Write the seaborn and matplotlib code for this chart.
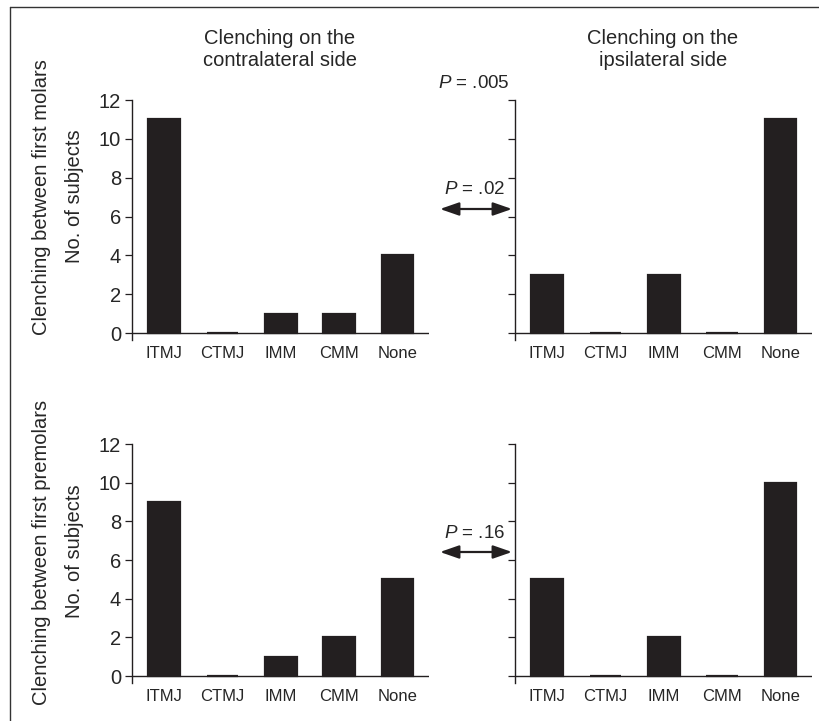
import matplotlib
matplotlib.use("Agg")
import matplotlib.pyplot as plt
import seaborn as sns
from matplotlib.lines import Line2D

# Data
categories = ["ITMJ", "CTMJ", "IMM", "CMM", "None"]
molars_contra = [11, 0, 1, 1, 4]
molars_ipsi = [3, 0, 3, 0, 11]
premolars_contra = [9, 0, 1, 2, 5]
premolars_ipsi = [5, 0, 2, 0, 10]
col_titles = ["Clenching on the\ncontralateral side", "Clenching on the\nipsilateral side"]
row_labels = ["Clenching between first molars", "Clenching between first premolars"]
yticks = [0, 2, 4, 6, 8, 10, 12]

sns.set_style("ticks")
plt.rcParams["font.family"] = ["Liberation Sans", "DejaVu Sans"]
plt.rcParams["mathtext.fontset"] = "custom"
plt.rcParams["mathtext.it"] = "Liberation Sans:italic"
plt.rcParams["mathtext.rm"] = "Liberation Sans"

bar_color = "#231f20"
W, H = 819, 721
fig = plt.figure(figsize=(W / 100, H / 100), dpi=100)


def px(x0, y0, x1, y1):
    # pixel box -> figure fraction [left, bottom, width, height]
    return [x0 / W, 1 - y1 / H, (x1 - x0) / W, (y1 - y0) / H]


boxes = [px(132, 100, 429, 340), px(515, 100, 812, 340),
         px(132, 444, 429, 683), px(515, 444, 812, 683)]
series = [molars_contra, molars_ipsi, premolars_contra, premolars_ipsi]

for i, (box, vals) in enumerate(zip(boxes, series)):
    ax = fig.add_axes(box)
    sns.barplot(x=categories, y=vals, ax=ax, color=bar_color, width=0.54,
                edgecolor=bar_color, linewidth=1.6, saturation=1)
    ax.set_ylim(-0.36, 12)
    ax.set_xlim(-0.55, 4.54)
    ax.set_yticks(yticks)
    ax.axhline(0, color="#231f20", lw=1.0, zorder=0)
    for s in ["top", "right", "bottom"]:
        ax.spines[s].set_visible(False)
    ax.spines["left"].set_linewidth(1.0)
    ax.spines["left"].set_color("#231f20")
    ax.tick_params(axis="y", length=5, width=0.9, color="#231f20",
                   labelsize=14.5, pad=3)
    ax.tick_params(axis="x", length=0, labelsize=12, pad=4)
    ax.set_xlabel("")
    ax.set_ylabel("")
    if i % 2 == 1:
        ax.set_yticklabels([])

# column titles
fig.text(280 / W, 1 - 50 / H, col_titles[0], ha="center", va="center",
         fontsize=14.5, linespacing=1.2)
fig.text(663 / W, 1 - 50 / H, col_titles[1], ha="center", va="center",
         fontsize=14.5, linespacing=1.2)

# row labels
for yc, lab in zip([197, 552], row_labels):
    fig.text(42 / W, 1 - yc / H, lab, rotation=90, ha="center", va="center",
             fontsize=14.5)
    fig.text(74 / W, 1 - (yc - 1) / H, "No. of subjects", rotation=90,
             ha="center", va="center", fontsize=14.5)

# P values and arrows
fig.text(474 / W, 1 - 83 / H, "$P$ = .005", ha="center", va="center", fontsize=13.5)
fig.text(475 / W, 1 - 190 / H, "$P$ = .02", ha="center", va="center", fontsize=13.5)
fig.text(475 / W, 1 - 533 / H, "$P$ = .16", ha="center", va="center", fontsize=13.5)
for ya in [209, 552]:
    fig.add_artist(matplotlib.patches.FancyArrowPatch(
        (440 / W, 1 - ya / H), (512 / W, 1 - ya / H), transform=fig.transFigure,
        arrowstyle="<|-|>,head_length=1.15,head_width=0.4", mutation_scale=10,
        lw=1.6, color=bar_color, shrinkA=0, shrinkB=0))

# outer frame (top and left)
fig.add_artist(Line2D([10 / W, 1], [1 - 7 / H, 1 - 7 / H], transform=fig.transFigure,
                      color="#333333", lw=1))
fig.add_artist(Line2D([10 / W, 10 / W], [0, 1 - 7 / H], transform=fig.transFigure,
                      color="#333333", lw=1))

fig.savefig("out.png", dpi=100)
